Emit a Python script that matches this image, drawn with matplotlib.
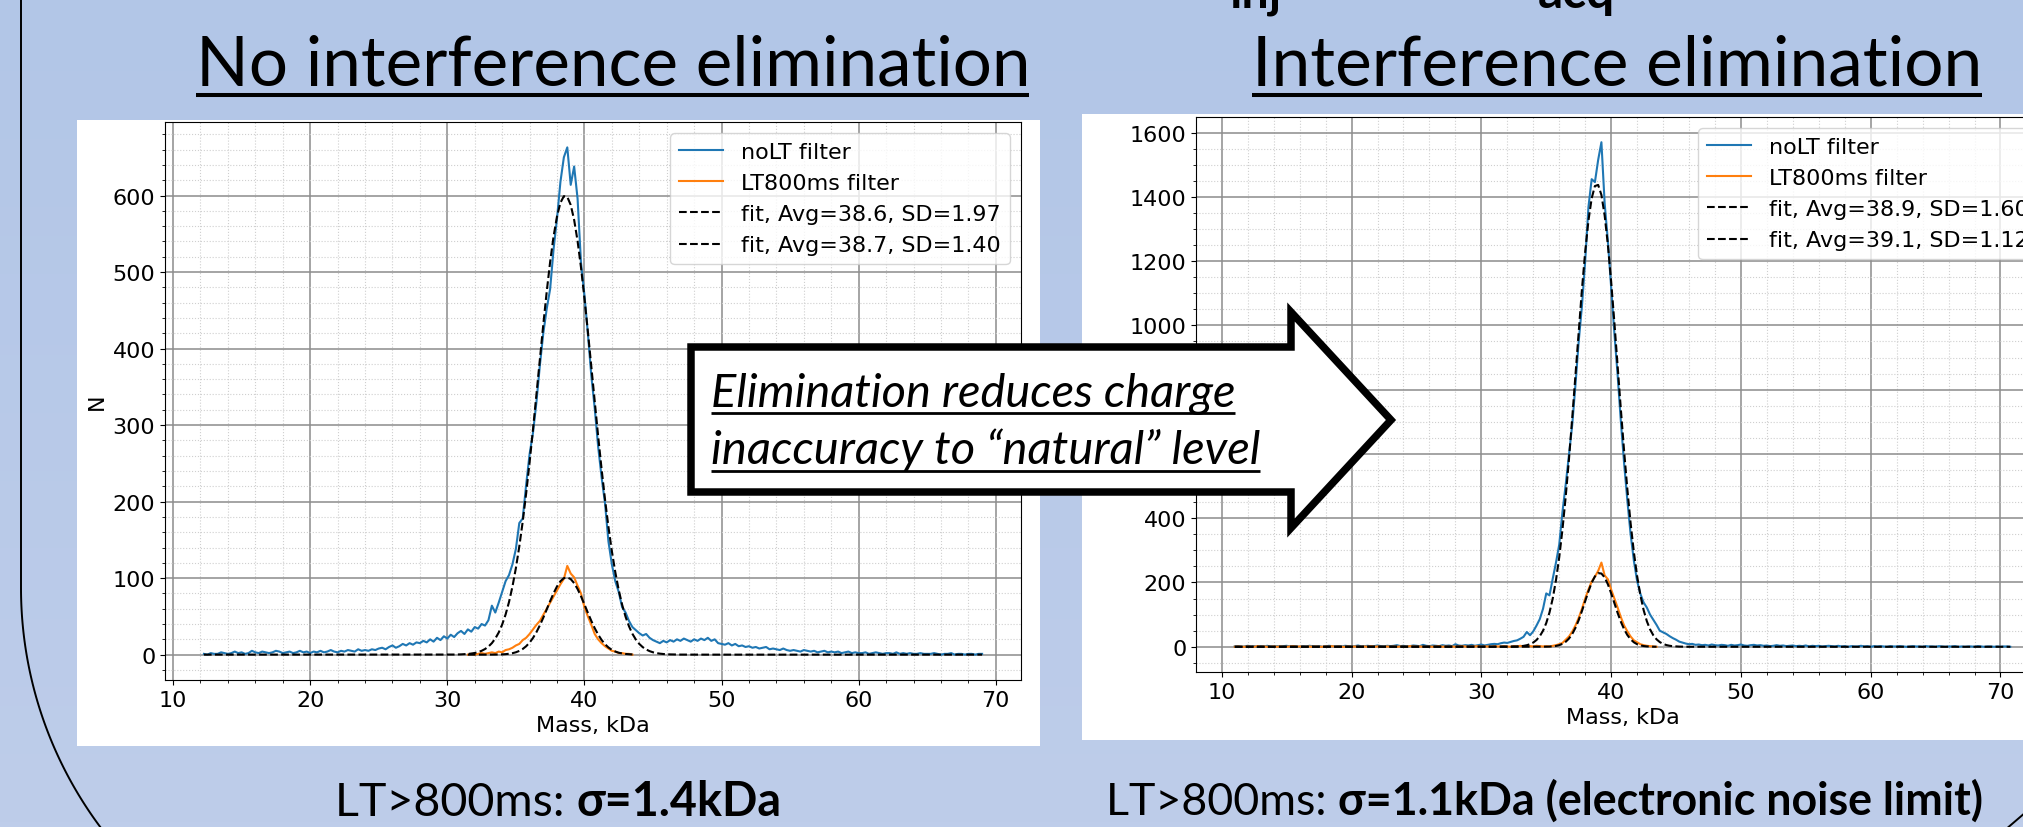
import numpy as np
import matplotlib
matplotlib.use("Agg")
import matplotlib.pyplot as plt
from matplotlib.patches import Rectangle, Polygon
from matplotlib.colors import LinearSegmentedColormap

# ---------------------------------------------------------------- data
BIN = 0.25  # histogram bin width, kDa

# left panel: no interference elimination
left_nolt_start = 12.25
left_nolt = [
    1, 0, 2, 1, 1, 3, 2, 1, 2, 4, 2, 3, 1, 2, 5, 3, 2, 4, 3, 2, 3, 5, 4, 2, 3, 4, 2, 3, 5, 3, 4, 2,
    4, 3, 5, 3, 4, 6, 4, 3, 5, 4, 6, 5, 4, 7, 5, 6, 5, 7, 6, 8,
    9, 7, 10, 12, 9, 11, 14, 12, 15, 13, 16, 15, 18, 16, 20, 17, 22, 19, 24, 21,
    26, 23, 28, 31, 27, 33, 30, 36, 34, 40, 38, 45,
    64, 55, 68, 82, 96, 104, 118, 138, 172, 178, 222, 262,
    290, 330, 378, 420, 452, 478, 530, 570, 618, 650, 663, 614, 638, 596, 512, 470, 420, 365, 322, 272,
    232, 198, 148, 118, 96, 82, 62, 55, 44, 36, 32, 28, 25, 27, 22, 19,
    17, 15, 18, 16, 19, 17, 20, 18, 21, 19, 17, 20, 18, 21, 19, 22, 18, 20, 15, 14,
    13, 15, 12, 14, 11, 12, 10, 11, 9, 10, 8, 9, 10, 7, 8, 7, 6, 8, 6, 5,
    6, 5, 4, 6, 5, 4, 5, 3, 4, 5, 3, 4, 3, 4, 2, 3, 4, 2, 3, 2,
    2, 3, 1, 2, 3, 2, 1, 2, 2, 1, 3, 1, 2, 1, 2, 1, 1, 2, 1, 1,
    1, 2, 1, 0, 1, 1, 2, 0, 1, 1, 0, 1, 1, 0, 1, 1,
]
left_lt800_start = 31.5
left_lt800 = [
    0, 1, 0, 1, 2, 1, 2, 3, 2, 4, 3, 6, 7, 9, 12, 14, 19, 22, 27, 33,
    39, 44, 52, 60, 68, 76, 84, 92, 99, 116, 106, 101, 90, 80, 62, 50, 39, 27, 20, 15,
    11, 8, 5, 4, 2, 2, 1, 1, 0,
]
left_fit_avg = [38.6, 38.7]
left_fit_sd = [1.97, 1.40]
left_fit_peak = [600, 101]

# right panel: interference elimination
right_nolt_start = 11.0
right_nolt = [
    1, 2, 0, 1, 3, 1, 2, 0, 2, 1, 3, 1, 0, 2, 1, 2, 3, 1, 2, 1, 0, 2, 1, 3, 2, 1, 2, 0, 1, 3, 2, 1, 2, 1, 3, 2, 1, 2, 4, 1,
    2, 3, 1, 2, 4, 2, 1, 3, 2, 3, 5, 2, 3, 1, 2, 4, 3, 2, 6, 3, 2, 4, 3, 2, 5, 3, 4, 2, 8, 4, 3, 5, 4, 6, 3, 5, 7, 4, 6, 8,
    9, 8, 11, 13, 12, 15, 18, 20, 25, 31, 46, 36, 48, 66, 86, 118, 166, 160, 212, 262,
    318, 420, 505, 598, 690, 815, 950, 1060, 1200, 1368, 1455, 1446, 1515, 1570, 1380, 1262, 1120, 975, 845, 700,
    570, 455, 350, 268,
    205, 165, 138, 122, 100, 84, 68, 50, 45, 40, 33, 27, 22, 16, 13, 10, 8, 9, 6, 7,
    5, 6, 4, 7, 5, 4, 6, 5, 3, 6, 4, 5, 7, 4, 3, 5, 6, 4, 5, 3, 4, 2, 3, 5, 3, 4, 2, 3, 4, 2, 3, 2, 4, 1, 3, 2, 3, 1, 2, 3,
    2, 1, 3, 1, 2, 0, 2, 1, 1, 3, 1, 2, 0, 2, 1, 2, 1, 0, 2, 1, 1, 2, 1, 0, 1, 2, 1, 1, 0, 2,
    1, 1, 0, 2, 1, 0, 1, 1, 2, 0, 1, 0, 1, 1, 0, 2, 1, 0, 1, 1, 0, 1, 0, 1, 1, 0,
]
right_lt800_start = 11.0
right_lt800 = [
    0, 1, 0, 0, 1, 0, 0, 2, 0, 1, 0, 0, 1, 0, 1, 0, 0, 1, 2, 0, 1, 0, 0, 1, 0, 1, 0, 0, 1, 0,
    2, 0, 1, 0, 0, 1, 0, 1, 0, 0, 1, 0, 2, 0, 1, 0, 0, 1, 0, 1, 0, 1, 0, 0, 2, 1, 0, 1, 0, 0,
    1, 0, 1, 2, 0, 1, 0, 1, 0, 1, 2, 1, 0, 1, 1, 2, 0, 1, 1, 0, 2, 1, 1, 2, 1, 0, 2, 1, 3, 1,
    2, 2, 1, 3, 2, 1,
    2, 1, 3, 5, 8, 12, 22, 32, 47, 66, 90, 118, 150, 178, 203, 218, 236, 262, 222, 210,
    178, 150, 122, 92, 66, 48, 32, 20, 14, 8, 5, 3, 2, 1, 0,
]
right_fit_avg = [38.9, 39.1]
right_fit_sd = [1.60, 1.12]
right_fit_peak = [1440, 230]

series_labels = ["noLT filter", "LT800ms filter"]
x_label = "Mass, kDa"
y_label = "N"
panel_titles = ["No interference elimination", "Interference elimination"]
arrow_lines = ["Elimination reduces charge", "inaccuracy to \u201cnatural\u201d level"]
footer_plain = "LT>800ms: "
footer_bold = ["\u03c3=1.4kDa", "\u03c3=1.1kDa (electronic noise limit)"]
header_bits = ["inj", "acq"]

# ---------------------------------------------------------------- figure
W, H = 2024, 828
plt.rcParams["font.size"] = 16
SLIDE_FONT = ["Lato", "DejaVu Sans"]

fig = plt.figure(figsize=(W / 100, H / 100), dpi=100)


def px_rect(left, top, right, bottom):
    return [left / W, 1 - bottom / H, (right - left) / W, (bottom - top) / H]


# slide background
bg = fig.add_axes([0, 0, 1, 1], zorder=-10)
grad = np.linspace(0, 1, 256)[:, None]
bg_cmap = LinearSegmentedColormap.from_list("slide_bg", ["#B2C6E7", "#BECDEA"])
bg.imshow(grad, cmap=bg_cmap, extent=(0, W, H, 0), aspect="auto", interpolation="bicubic")
bg.set_xlim(0, W)
bg.set_ylim(H, 0)
bg.axis("off")
bg.add_patch(Rectangle((77, 121), 963, 626, facecolor="white", edgecolor="none"))
bg.add_patch(Rectangle((1082, 115), 960, 626, facecolor="white", edgecolor="none"))

# rounded frame corner on the left and a bit of the next frame at bottom right
theta = np.linspace(0, np.radians(50), 80)
frame_x = np.r_[21, 421 - 400 * np.cos(theta)]
frame_y = np.r_[-5, 589 + 400 * np.sin(theta)]
bg.plot(frame_x, frame_y, color="black", lw=1.4)
bg.plot([2005, 2026], [831, 813], color="black", lw=1.4)


def draw_chart(box, nolt_start, nolt, lt_start, lt, avgs, sds, peaks):
    ax = fig.add_axes(px_rect(*box))
    x_nolt = nolt_start + BIN * np.arange(len(nolt))
    x_lt = lt_start + BIN * np.arange(len(lt))
    ax.plot(x_nolt, nolt, color="#1f77b4", lw=1.5, label=series_labels[0])
    ax.plot(x_lt, lt, color="#ff7f0e", lw=1.5, label=series_labels[1])
    for xg, avg, sd, peak in zip((x_nolt, x_lt), avgs, sds, peaks):
        ax.plot(xg, peak * np.exp(-0.5 * ((xg - avg) / sd) ** 2), "k--", lw=1.5,
                label=f"fit, Avg={avg:.1f}, SD={sd:.2f}")
    ax.minorticks_on()
    ax.set_axisbelow(True)
    ax.grid(which="major", color="#8c8c8c", lw=1.1)
    ax.grid(which="minor", color="#cfcfcf", lw=0.8, ls=":")
    ax.set_xlabel(x_label)
    ax.set_ylabel(y_label)
    ax.legend(loc="upper right", fontsize=16)
    return ax


draw_chart((165, 123, 1021, 681), left_nolt_start, left_nolt, left_lt800_start, left_lt800,
           left_fit_avg, left_fit_sd, left_fit_peak)
draw_chart((1196, 118, 2049, 673), right_nolt_start, right_nolt, right_lt800_start, right_lt800,
           right_fit_avg, right_fit_sd, right_fit_peak)

# ---------------------------------------------------------------- slide overlay
ov = fig.add_axes([0, 0, 1, 1], zorder=10)
ov.set_xlim(0, W)
ov.set_ylim(H, 0)
ov.axis("off")
renderer = fig.canvas.get_renderer()


def fitted_text(x, y, s, width, **kw):
    t = ov.text(x, y, s, fontsize=30, ha="left", va="baseline", family=SLIDE_FONT, **kw)
    w = t.get_window_extent(renderer).width
    t.set_fontsize(30 * width / w)
    return t


def underline(x, y, width, thick):
    ov.plot([x, x + width], [y, y], color="black", lw=thick, solid_capstyle="butt")


def mixed_text(x, y, parts, width):
    texts = [ov.text(x, y, s, fontsize=30, ha="left", va="baseline", family=SLIDE_FONT,
                     fontweight=wt) for s, wt in parts]
    total = sum(t.get_window_extent(renderer).width for t in texts)
    size = 30 * width / total
    cur = x
    for t in texts:
        t.set_fontsize(size)
        t.set_x(cur)
        cur += t.get_window_extent(renderer).width


# panel titles
fitted_text(196, 85, panel_titles[0], 833)
underline(196, 96, 833, 2.9)
fitted_text(1252, 85, panel_titles[1], 730)
underline(1252, 96, 730, 2.9)

# clipped header fragments at the very top
fitted_text(1230, 8, header_bits[0], 52, fontweight="bold")
fitted_text(1538, 8, header_bits[1], 77, fontweight="bold")

# call-out arrow
arrow_verts = [(691, 348), (1291, 348), (1291, 313), (1391, 421), (1291, 529),
               (1291, 493), (691, 493)]
ov.add_patch(Polygon(arrow_verts, closed=True, facecolor="white", edgecolor="black",
                     lw=5.4, joinstyle="miter"))
fitted_text(711, 407, arrow_lines[0], 524, style="italic")
underline(711, 414, 524, 2.0)
fitted_text(711, 464, arrow_lines[1], 549, style="italic")
underline(711, 472, 549, 2.0)

# footers
mixed_text(335, 816, [(footer_plain, "normal"), (footer_bold[0], "bold")], 446)
mixed_text(1106, 815, [(footer_plain, "normal"), (footer_bold[1], "bold")], 877)

fig.savefig("out.png", dpi=100)
